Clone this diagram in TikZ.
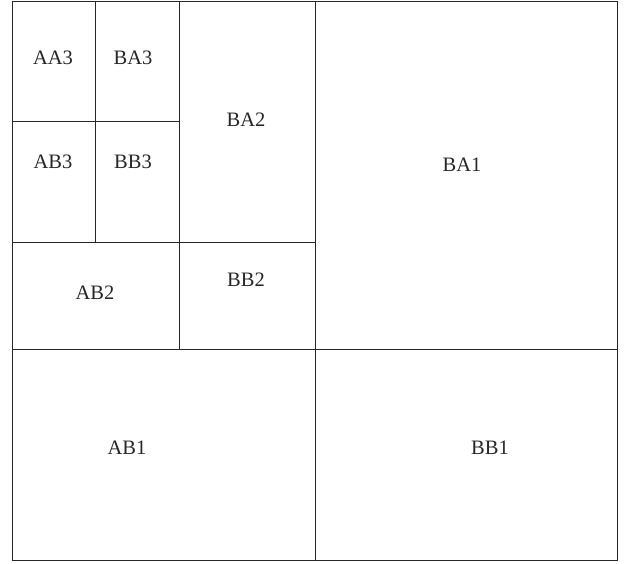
\documentclass[tikz,border=0pt]{standalone}
\usepackage{fontspec}
\setmainfont{Liberation Serif}
\usepackage{tikz}

\begin{document}
\begin{tikzpicture}[x=1pt, y=-1pt, line width=1pt,
    cell/.style={draw=black!85},
    lbl/.style={font=\fontsize{20.5}{24}\selectfont, text=black!85, inner sep=0pt}]
    \useasboundingbox (0,0) rectangle (628,563);

    % Outer square
    \draw[cell] (12,1) rectangle (617,560);

    % Level 1 split
    \draw[cell] (315,1) -- (315,560);
    \draw[cell] (12,349) -- (617,349);

    % Level 2 split (upper left quarter)
    \draw[cell] (179,1) -- (179,349);
    \draw[cell] (12,242) -- (315,242);

    % Level 3 split (upper left of level 2)
    \draw[cell] (95,1) -- (95,242);
    \draw[cell] (12,121) -- (179,121);

    % Labels
    \node[lbl] (aa3) at (53,58)   {AA3};
    \node[lbl] (ba3) at (133,58)  {BA3};
    \node[lbl] (ab3) at (53,162)  {AB3};
    \node[lbl] (bb3) at (133,162) {BB3};
    \node[lbl] (ba2) at (246,120) {BA2};
    \node[lbl] (ab2) at (95,293)  {AB2};
    \node[lbl] (bb2) at (246,280) {BB2};
    \node[lbl] (ba1) at (462,165) {BA1};
    \node[lbl] (ab1) at (127,448) {AB1};
    \node[lbl] (bb1) at (490,448) {BB1};
\end{tikzpicture}
\end{document}
